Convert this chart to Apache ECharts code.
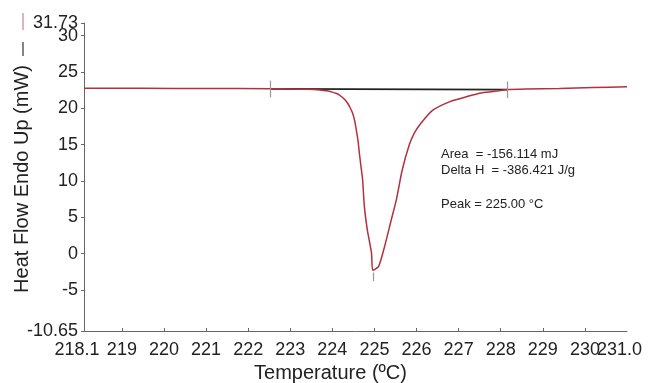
<!DOCTYPE html>
<html>
<head>
<meta charset="utf-8">
<script src="https://cdn.jsdelivr.net/npm/echarts@6/dist/echarts.min.js"></script>
<style>
  html, body { margin: 0; padding: 0; background: #fff; }
  #chart { width: 652px; height: 383px; }
</style>
</head>
<body>
<div id="chart"></div>
<script>
// 曲线数据 (温度 ºC, 热流 mW)
const temps = [218.1, 219.5, 221.0, 222.53, 223.0, 223.39, 223.70, 223.90, 224.00, 224.10, 224.17, 224.25,
  224.31, 224.36, 224.42, 224.48, 224.53, 224.57, 224.61, 224.64, 224.68, 224.72, 224.76, 224.83,
  224.93, 224.96, 225.10, 225.24, 225.40, 225.52, 225.66, 225.83, 225.95, 226.10, 226.38, 226.78,
  227.18, 227.56, 227.96, 228.15, 228.60, 229.39, 230.20, 231.0]
const heatFlow = [22.75, 22.74, 22.72, 22.68, 22.66, 22.62, 22.52, 22.36, 22.22, 22.02, 21.82, 21.45,
  21.1, 20.72, 20.1, 19.35, 18.3, 17.0, 15.5, 13.9, 12.0, 10.1, 6.5, 3.3,
  0.1, -2.3, -1.75, 0.95, 4.65, 7.4, 11.5, 15.0, 16.6, 17.9, 19.7, 20.88,
  21.57, 22.12, 22.39, 22.57, 22.66, 22.73, 22.84, 22.96]

// 积分基线
const baseTemps = [222.53, 228.15]
const baseFlow = [22.66, 22.56]

// 标记竖线 (温度, 下端, 上端)
const markTemps = [222.53, 228.15, 224.97]
const markLow = [21.5, 21.4, -2.6]
const markHigh = [23.8, 23.7, -3.8]

// 刻度 (端点刻度单独放一条轴, 避免被重叠隐藏)
const xTicks = [219, 220, 221, 222, 223, 224, 225, 226, 227, 228, 229, 230]
const xEnds = [218.1, 231.0]
const yTicks = [-5, 0, 5, 10, 15, 20, 25, 30]
const yEnds = [-10.65, 31.73]

// 注释文字
const notes = ['Area  = -156.114 mJ', 'Delta H  = -386.421 J/g', 'Peak = 225.00 °C']

const chart = echarts.init(document.getElementById('chart'))
const font = 'Liberation Sans, Arial, sans-serif'
const xMin = 218.1, xMax = 231.0, yMin = -10.65, yMax = 31.73

const labelStyle = { fontSize: 18, color: '#222', fontFamily: font, hideOverlap: false }

const option = {
  animation: false,
  textStyle: { fontFamily: font },
  grid: { left: 84, right: 25, top: 23, bottom: 52, containLabel: false, outerBoundsMode: 'none' },
  xAxis: [
    {
      type: 'value',
      min: xMin,
      max: xMax,
      position: 'bottom',
      name: 'Temperature (ºC)',
      nameLocation: 'middle',
      nameGap: 31,
      nameTextStyle: { fontSize: 20, color: '#222', fontFamily: font, padding: [0, 50, 0, 0] },
      axisLine: { onZero: false, lineStyle: { color: '#666', width: 1 } },
      axisTick: { customValues: xTicks, inside: true, length: 3, lineStyle: { color: '#666' } },
      axisLabel: { ...labelStyle, customValues: xTicks, margin: 10, formatter: v => String(v) },
      splitLine: { show: false }
    },
    {
      type: 'value',
      min: xMin,
      max: xMax,
      position: 'bottom',
      axisLine: { show: false, onZero: false },
      axisTick: { show: false },
      axisLabel: {
        ...labelStyle,
        customValues: xEnds,
        margin: 10,
        // 端点标签略向左偏
        formatter: v => (v === 218.1 ? '{l|218.1}' : '{r|231.0}'),
        rich: {
          l: { fontSize: 18, color: '#222', fontFamily: font, padding: [0, 14, 0, 0] },
          r: { fontSize: 18, color: '#222', fontFamily: font, padding: [0, 15, 0, 0] }
        }
      },
      splitLine: { show: false }
    }
  ],
  yAxis: [
    {
      type: 'value',
      min: yMin,
      max: yMax,
      position: 'left',
      name: 'Heat Flow Endo Up (mW)',
      nameLocation: 'middle',
      nameRotate: 90,
      nameGap: 52,
      nameTextStyle: { fontSize: 20, color: '#222', fontFamily: font, padding: [0, 4, 0, 0] },
      axisLine: { show: true, onZero: false, lineStyle: { color: '#666', width: 1 } },
      axisTick: { show: true, customValues: yTicks.concat(yEnds), length: 3, lineStyle: { color: '#666' } },
      axisLabel: { ...labelStyle, customValues: yTicks, margin: 6, formatter: v => String(v) },
      splitLine: { show: false }
    },
    {
      type: 'value',
      min: yMin,
      max: yMax,
      position: 'left',
      axisLine: { show: false, onZero: false },
      axisTick: { show: false },
      axisLabel: { ...labelStyle, customValues: yEnds, margin: 6, formatter: v => String(v) },
      splitLine: { show: false }
    }
  ],
  series: [
    {
      name: 'baseline',
      type: 'line',
      data: baseTemps.map((t, i) => [t, baseFlow[i]]),
      symbol: 'none',
      lineStyle: { color: '#222', width: 1.6 },
      markLine: {
        silent: true,
        symbol: 'none',
        label: { show: false },
        lineStyle: { color: '#999', width: 1.2, type: 'solid' },
        data: markTemps.map((t, i) => [{ coord: [t, markLow[i]] }, { coord: [t, markHigh[i]] }])
      }
    },
    {
      name: 'heat flow',
      type: 'line',
      data: temps.map((t, i) => [t, heatFlow[i]]),
      symbol: 'none',
      smooth: 0.2,
      lineStyle: { color: '#b3303c', width: 1.5 }
    }
  ],
  graphic: [
    { type: 'text', left: 441, top: 148, style: { text: notes[0], fontSize: 13, fill: '#222', fontFamily: font } },
    { type: 'text', left: 441, top: 164, style: { text: notes[1], fontSize: 13, fill: '#222', fontFamily: font } },
    { type: 'text', left: 441, top: 198, style: { text: notes[2], fontSize: 13, fill: '#222', fontFamily: font } },
    // 纵轴标题旁的图例短线
    { type: 'line', shape: { x1: 23, y1: 13, x2: 23, y2: 30 }, style: { stroke: '#d77a85', lineWidth: 1.2 } },
    { type: 'line', shape: { x1: 23, y1: 42, x2: 23, y2: 56 }, style: { stroke: '#333', lineWidth: 1.2 } }
  ]
}

chart.setOption(option)
window.addEventListener('resize', () => chart.resize())
</script>
</body>
</html>
